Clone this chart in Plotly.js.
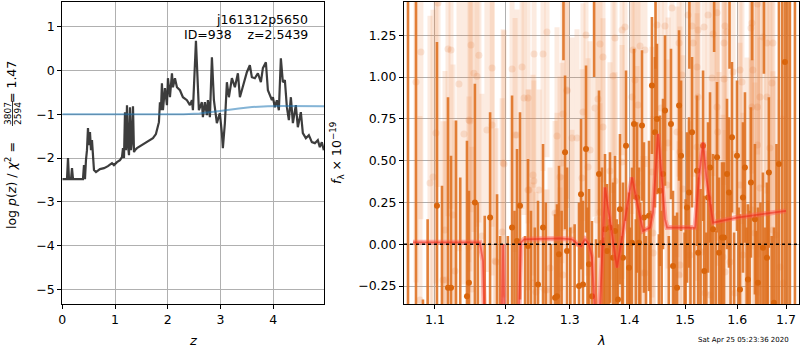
<!DOCTYPE html>
<html><head><meta charset="utf-8">
<script src="https://cdn.plot.ly/plotly-3.0.1.min.js"></script>
<style>html,body{margin:0;padding:0;background:#fff}#c{width:800px;height:350px}</style>
</head><body><div id="c"></div>
<script>
// ---- left panel: p(z) ----
const pz_z = [0.000,0.070,0.089,0.108,0.127,0.165,0.184,0.203,0.392,0.411,0.430,0.449,0.468,0.487,0.506,0.525,0.544,0.563,0.582,0.601,0.639,0.715,0.791,0.866,0.942,0.980,1.037,1.094,1.132,1.151,1.170,1.189,1.208,1.227,1.246,1.265,1.284,1.303,1.322,1.341,1.360,1.378,1.416,1.473,1.568,1.663,1.719,1.776,1.814,1.833,1.852,1.871,1.890,1.909,1.947,1.985,2.004,2.042,2.080,2.099,2.137,2.175,2.232,2.288,2.364,2.421,2.459,2.478,2.535,2.572,2.591,2.648,2.667,2.705,2.743,2.762,2.800,2.838,2.876,2.932,2.989,3.027,3.046,3.084,3.122,3.160,3.217,3.274,3.331,3.369,3.425,3.501,3.558,3.596,3.653,3.710,3.767,3.805,3.862,3.900,3.976,3.995,4.032,4.070,4.108,4.146,4.184,4.222,4.260,4.298,4.336,4.374,4.430,4.468,4.525,4.563,4.620,4.677,4.734,4.791,4.847,4.885,4.923,4.961];
const pz_logp = [-2.482,-2.482,-2.482,-2.000,-2.482,-2.482,-2.231,-2.482,-2.482,-2.162,-2.482,-2.048,-1.820,-1.317,-1.705,-1.408,-1.820,-1.591,-2.048,-2.276,-2.322,-2.253,-2.231,-2.185,-2.116,-2.162,-2.094,-2.048,-1.979,-1.774,-2.000,-0.952,-1.820,-0.792,-1.705,-1.934,-0.838,-1.820,-1.591,-0.815,-1.865,-1.820,-1.774,-1.728,-1.660,-1.591,-1.546,-1.454,-1.295,-1.180,-0.724,-0.906,-0.290,-0.906,-0.404,-0.792,-0.176,-0.610,-0.062,-0.381,-0.176,-0.381,-0.450,-0.610,-0.678,-0.792,-0.678,-0.906,0.680,-0.678,-0.906,-0.724,-1.066,-0.724,-1.021,-0.678,-1.066,0.304,-0.678,-1.203,-0.975,-1.432,-1.774,-1.203,-0.267,-0.610,-0.176,-0.381,-0.062,-0.610,-0.381,-0.039,0.121,-0.153,-0.176,-0.062,-0.267,0.053,0.189,-0.450,-0.678,-0.610,-0.838,-0.678,-0.906,0.281,-0.267,-0.221,-0.838,-1.135,-0.610,-1.203,-0.792,-1.295,-0.952,-1.432,-1.546,-1.477,-1.637,-1.660,-1.591,-1.751,-1.637,-1.820];
const prior_z = [0, 2.3, 2.6, 2.85, 3.1, 3.35, 3.6, 3.9, 4.2, 4.97];
const prior_logp = [-1.0, -1.0, -0.98, -0.95, -0.91, -0.87, -0.835, -0.815, -0.81, -0.815];
const pz_ticks = [0, 1, 2, 3, 4];
const lp_ticks = [-5, -4, -3, -2, -1, 0, 1];

// ---- right panel: spectrum ----
const bg_lam = [1.1041,1.0810,1.0744,1.1013,1.1179,1.1221,1.1332,1.1403,1.1473,1.1502,1.1544,1.1587,1.1616,1.1732,1.1807,1.1807,1.1984,1.2103,1.2178,1.2254,1.2284,1.2345,1.2438,1.2577,1.2639,1.2797,1.2892,1.2957,1.4758,1.6410,1.3872,1.3923,1.4486,1.4631,1.5055,1.5130,1.5242,1.5356,1.5433,1.5606,1.5761,1.5800,1.6296,1.6276,1.3266,1.3498,1.3548,1.3751,1.4185,1.4272,1.4888,1.5150,1.5529,1.5742,1.6520,1.6602,1.6726,1.4061,1.5224,1.6057,1.5918,1.6316,1.3717,1.4096,1.4944,1.5510,1.5742,1.6096,1.6706,1.2957,1.3464,1.4044,1.5242,1.6460,1.6602,1.3414,1.3216,1.4149,1.4559,1.5606,1.6296,1.6410,1.3548,1.4851,1.5620,1.3037,1.3118,1.4686,1.5224,1.6410,1.6664,1.3332,1.3872,1.4906,1.2876,1.1970,1.2148,1.2422,1.2435,1.2345,1.2515,1.2766,1.2845,1.3037,1.2892,1.2639,1.2468,1.3200,1.3299,1.3666,1.3751,1.3498,1.3448,1.4132,1.4236,1.1955,1.0932,1.1137,1.1248,1.1151,1.1276,1.1516,1.1659,1.1866,1.2360,1.2410,1.2608,1.2687,1.2797,1.2845,1.4396,1.4414,1.4272,1.4420,1.4668,1.4962,1.4906,1.4888,1.5093,1.5242,1.5375,1.5471,1.5318,1.5645,1.5722,1.5761,1.5859,1.6116,1.6357,1.6196,1.6296,1.6057,1.6460,1.6726,1.6789,1.6874,1.6937,1.5957,1.0973,1.1487,1.1851,1.1110,1.0797,1.1473];
const bg_flux = [1.443,1.150,0.971,0.666,1.168,1.162,0.959,0.660,0.743,1.192,1.023,1.005,1.130,0.684,0.714,1.055,0.480,1.049,0.654,1.061,0.875,0.875,1.138,1.138,1.270,0.648,0.779,0.917,1.413,1.437,1.282,1.300,1.312,1.306,1.372,1.306,1.282,1.300,1.372,1.384,1.306,1.270,1.324,1.294,1.252,1.198,1.120,1.234,1.186,1.162,1.204,1.204,1.258,1.204,1.240,1.204,1.204,1.162,1.061,1.043,1.031,1.043,1.007,0.983,1.013,0.995,0.989,0.971,0.965,0.923,0.869,0.881,0.881,0.881,0.881,0.815,0.791,0.833,0.815,0.821,0.821,0.821,0.702,0.672,0.672,0.636,0.636,0.606,0.582,0.594,0.576,0.564,0.492,0.552,0.486,0.486,0.654,0.414,0.379,0.325,0.325,0.187,0.403,0.085,-0.184,-0.273,-0.285,0.397,0.462,0.438,0.379,0.193,0.145,0.367,-0.172,0.074,0.367,0.086,0.175,-0.214,-0.160,-0.267,0.050,-0.106,0.325,-0.231,-0.273,-0.141,0.187,-0.261,0.432,0.067,-0.172,-0.052,0.355,0.331,-0.124,-0.184,-0.064,-0.052,-0.291,-0.303,-0.046,0.181,-0.076,-0.166,-0.106,-0.064,0.067,0.217,0.205,0.355,0.337,0.085,0.056,-0.136,-0.231,-0.291,0.403,0.737,-0.100,-0.214,-0.333,-0.016];
const bg_err = [1.1,1.0,1.2,0.9,1.0,0.95,1.0,0.9,0.85,1.0,0.95,0.9,1.0,0.85,0.9,0.95,0.8,0.8,0.75,0.85,0.7,0.75,0.8,0.7,0.75,0.65,0.7,0.7,0.85,0.9,0.75,0.7,0.8,0.75,0.85,0.8,0.8,0.85,0.9,0.85,0.8,0.85,0.9,0.85,0.7,0.7,0.75,0.7,0.75,0.7,0.8,0.8,0.85,0.85,0.9,0.9,0.95,0.7,0.8,0.85,0.85,0.9,0.7,0.7,0.8,0.8,0.85,0.85,0.95,0.65,0.7,0.7,0.8,0.9,0.9,0.65,0.65,0.7,0.75,0.8,0.85,0.9,0.65,0.75,0.8,0.6,0.65,0.75,0.8,0.9,0.95,0.65,0.7,0.75,0.6,0.8,0.7,0.6,0.6,0.6,0.6,0.55,0.6,0.6,0.6,0.6,0.6,0.65,0.65,0.65,0.65,0.65,0.65,0.7,0.7,0.8,1.0,0.95,0.9,0.95,0.9,0.85,0.85,0.8,0.6,0.6,0.6,0.6,0.6,0.6,0.75,0.7,0.7,0.7,0.75,0.8,0.8,0.8,0.8,0.8,0.85,0.85,0.8,0.85,0.85,0.85,0.85,0.85,0.9,0.9,0.9,0.85,0.9,0.95,0.95,1.0,1.0,0.85,1.0,0.9,0.85,0.95,1.1,0.9];

const sp_lam = [1.0638,1.0744,1.0837,1.1027,1.1096,1.1179,1.1221,1.1290,1.1445,1.1473,1.1558,1.1600,1.1700,1.1778,1.1925,1.2040,1.2103,1.2178,1.2223,1.2300,1.2345,1.2450,1.2499,1.2577,1.2700,1.2766,1.2797,1.2829,1.2900,1.2925,1.2957,1.3080,1.3151,1.3184,1.3216,1.3266,1.3315,1.3364,1.3430,1.3481,1.3531,1.3560,1.3582,1.3615,1.3666,1.3717,1.3751,1.3802,1.3836,1.3870,1.3888,1.3940,1.3992,1.4010,1.4044,1.4079,1.4132,1.4167,1.4219,1.4254,1.4290,1.4343,1.4396,1.4450,1.4460,1.4486,1.4520,1.4541,1.4595,1.4631,1.4700,1.4740,1.4777,1.4851,1.4888,1.4925,1.4990,1.5036,1.5074,1.5130,1.5170,1.5224,1.5245,1.5338,1.5360,1.5400,1.5433,1.5471,1.5529,1.5550,1.5580,1.5606,1.5645,1.5703,1.5742,1.5800,1.5839,1.5898,1.5940,1.5997,1.6057,1.6116,1.6156,1.6190,1.6216,1.6276,1.6300,1.6357,1.6380,1.6418,1.6520,1.6560,1.6602,1.6643,1.6700,1.6747,1.6851,1.6977,1.7082,1.7189,
  1.0900,1.1350,1.1880,1.2140,1.2390,1.2620,1.2870,1.3010,1.3290,1.3650,1.3780,1.3960,1.4110,1.4190,1.4370,1.4570,1.4810,1.5010,1.5100,1.5290,1.5490,1.5680,1.5870,1.6030,1.6250,1.6470,1.6620,1.6800,1.6920,1.7030,1.3400,1.5080,1.5850,1.6540];
const sp_flux = [1.80,-1.00,-0.95,0.23,-0.55,-0.26,-0.26,-0.42,-0.31,-0.23,0.25,-0.50,-0.48,0.16,-0.55,-0.50,0.10,0.02,0.23,-0.45,-0.01,-0.50,-0.24,0.10,-0.45,-0.32,-0.31,-0.06,1.60,0.55,-0.04,-0.50,-0.25,0.30,-0.24,0.57,-0.12,-0.31,-0.42,0.42,0.01,-0.48,0.09,-0.04,0.10,-0.08,0.08,-0.33,0.21,-0.40,-0.08,0.59,-0.14,-0.50,0.01,0.72,0.28,0.01,0.71,0.16,-0.45,0.17,0.95,0.67,1.55,0.75,-0.42,0.32,0.42,0.80,-0.50,0.72,-0.13,-0.26,0.83,0.53,-0.45,0.22,0.31,0.67,-0.40,0.44,-0.05,0.59,-0.16,-0.48,0.28,0.46,0.09,1.60,-0.42,0.52,-0.05,0.04,0.04,0.42,0.31,0.64,-0.45,0.53,-0.27,0.28,0.46,-0.40,-0.21,0.37,1.65,0.15,-0.47,-0.23,-0.02,-0.40,-0.08,0.43,-0.45,-0.35,0.48,1.09,1.80,-1.00,
  -0.80,-0.70,-0.60,-0.55,-0.50,-0.55,-0.50,-0.45,-0.48,-0.50,-0.45,-0.48,-0.45,-0.50,-0.45,-0.50,-0.48,-0.45,-0.50,-0.42,-0.46,-0.50,-0.44,-0.48,-0.45,-0.50,-0.44,-0.40,1.70,-0.50,1.60,1.65,1.60,1.62];
const sp_err = [2.5,2.5,0.62,0.98,0.90,1.14,0.79,1.16,0.93,0.55,0.71,0.75,0.65,0.63,0.60,0.55,0.79,0.55,0.56,0.50,0.52,0.60,0.50,0.50,0.45,0.50,0.55,0.53,0.50,0.46,0.50,0.62,0.50,0.45,0.50,0.50,0.45,0.45,0.45,0.50,0.45,0.52,0.45,0.40,0.45,0.45,0.45,0.45,0.45,0.45,0.45,0.45,0.45,0.60,0.45,0.45,0.45,0.45,0.45,0.45,0.50,0.45,0.41,0.45,0.50,0.45,0.48,0.45,0.45,0.45,0.55,0.45,0.45,0.45,0.45,0.45,0.52,0.45,0.45,0.45,0.50,0.45,0.45,0.45,0.45,0.55,0.45,0.45,0.45,0.45,0.50,0.45,0.45,0.45,0.45,0.45,0.45,0.45,0.52,0.45,0.45,0.45,0.45,0.50,0.45,0.45,0.55,0.45,0.55,0.45,0.45,0.50,0.45,0.45,0.50,0.45,1.20,1.50,2.50,2.50,
  0.95,1.10,0.90,0.75,0.70,0.80,0.70,0.55,0.70,0.65,0.60,0.70,0.60,0.75,0.65,0.70,0.65,0.72,0.60,0.75,0.70,0.65,0.75,0.70,0.65,0.75,0.70,1.00,2.20,2.20,0.60,0.60,0.55,0.60];

const model_lam = [1.0704,1.1630,1.1674,1.1732,1.1925,1.1970,1.2015,1.2163,1.2238,1.2284,1.2845,1.3037,1.3134,1.3184,1.3250,1.3315,1.3364,1.3440,1.3470,1.3582,1.3785,1.4044,1.4236,1.4361,1.4414,1.4486,1.4505,1.4559,1.4631,1.4668,1.5186,1.5260,1.5338,1.5400,1.5529,1.5997,1.6460,1.7000];
const model_flux = [0.012,0.012,-0.10,-1.0,-1.0,0.0,-1.0,-1.0,0.01,0.03,0.035,0.03,0.0,-0.01,0.03,0.0,-0.08,-0.6,-0.6,0.34,-0.14,0.40,0.08,0.10,0.19,0.56,0.66,0.45,0.15,0.10,0.10,0.40,0.61,0.40,0.13,0.16,0.18,0.20];

const lam_ticks = [1.1, 1.2, 1.3, 1.4, 1.5, 1.6, 1.7];
const flux_ticks = [-0.25, 0, 0.25, 0.5, 0.75, 1.0, 1.25];

const FONT = 'DejaVu Sans, Verdana, sans-serif';
const axBase = {showline:true, mirror:true, linecolor:'#000', linewidth:1, ticks:'outside', ticklen:4, tickcolor:'#000', tickwidth:1,
  showgrid:true, gridcolor:'#b0b0b0', gridwidth:1, zeroline:false, tickfont:{family:FONT, size:12.5, color:'#000'}};

const traces = [
  {x:pz_z, y:pz_logp, xaxis:'x', yaxis:'y', mode:'lines', line:{color:'rgba(40,40,40,0.9)', width:2.2}, hoverinfo:'skip'},
  {x:prior_z, y:prior_logp, xaxis:'x', yaxis:'y', mode:'lines', line:{color:'rgba(31,119,180,0.55)', width:2}, hoverinfo:'skip'},
  {x:bg_lam, y:bg_flux, xaxis:'x2', yaxis:'y2', mode:'markers', marker:{color:'rgba(225,115,45,0.16)', size:7},
   error_y:{type:'data', array:bg_err, visible:true, color:'rgba(235,135,70,0.17)', thickness:5, width:0}, hoverinfo:'skip'},
  {x:sp_lam, y:sp_flux, xaxis:'x2', yaxis:'y2', mode:'markers', marker:{color:'#d9650c', size:6},
   error_y:{type:'data', array:sp_err, visible:true, color:'rgba(222,110,30,0.88)', thickness:2.6, width:0}, hoverinfo:'skip'},
  {x:model_lam, y:model_flux, xaxis:'x2', yaxis:'y2', mode:'lines', line:{color:'rgba(255,90,80,0.45)', width:5}, hoverinfo:'skip'},
  {x:model_lam, y:model_flux, xaxis:'x2', yaxis:'y2', mode:'lines', line:{color:'rgba(235,35,20,0.55)', width:1.8}, hoverinfo:'skip'}
];

const PX = v => v/800;
const PY = v => (304 - v)/302;

const layout = {
  width:800, height:350, margin:{l:0, r:0, t:2, b:46}, showlegend:false,
  paper_bgcolor:'#fff', plot_bgcolor:'#fff', font:{family:FONT, size:12.5, color:'#000'},
  xaxis: Object.assign({}, axBase, {domain:[PX(62.3), PX(324.3)], range:[0, 4.97], tickvals:pz_ticks, anchor:'y'}),
  yaxis: Object.assign({}, axBase, {range:[-5.336, 1.566], tickvals:lp_ticks, anchor:'x'}),
  xaxis2: Object.assign({}, axBase, {domain:[PX(404), PX(799.3)], type:'log', range:[0.0247, 0.2376], tickvals:lam_ticks,
     ticktext:lam_ticks.map(v=>v.toFixed(1)), anchor:'y2'}),
  yaxis2: Object.assign({}, axBase, {range:[-0.357, 1.449], tickvals:flux_ticks, tickformat:'.2f', anchor:'x2'}),
  shapes: [
    {type:'line', xref:'x2 domain', yref:'y2', x0:0, x1:1, y0:0, y1:0, line:{color:'#000', width:1.6, dash:'dot'}},
    {type:'line', xref:'paper', yref:'paper', x0:PX(12.5), x1:PX(12.5), y0:PY(101), y1:PY(126), line:{color:'#000', width:0.8}}
  ],
  annotations: [
    {text:'j161312p5650', xref:'paper', yref:'paper', x:PX(310), y:PY(20), xanchor:'right', yanchor:'middle', showarrow:false, font:{size:12.5}},
    {text:'ID=938\u00a0\u00a0\u00a0\u00a0z=2.5439', xref:'paper', yref:'paper', x:PX(310), y:PY(34), xanchor:'right', yanchor:'middle', showarrow:false, font:{size:12.5}},
    {text:'<i>z</i>', xref:'paper', yref:'paper', x:PX(193), y:PY(340), xanchor:'center', yanchor:'middle', showarrow:false, font:{size:13}},
    {text:'<i>λ</i>', xref:'paper', yref:'paper', x:PX(601), y:PY(340), xanchor:'center', yanchor:'middle', showarrow:false, font:{size:13}},
    {text:'<i>f</i><sub>λ</sub> × 10<sup>−19</sup>', xref:'paper', yref:'paper', x:PX(337), y:PY(153), xanchor:'center', yanchor:'middle', textangle:-90, showarrow:false, font:{size:12.5}},
    {text:'log <i>p</i>(<i>z</i>) / <i>χ</i><sup>2</sup> =', xref:'paper', yref:'paper', x:PX(11), y:PY(186), xanchor:'center', yanchor:'middle', textangle:-90, showarrow:false, font:{size:12.5}},
    {text:'3807', xref:'paper', yref:'paper', x:PX(7.5), y:PY(113.5), xanchor:'center', yanchor:'middle', textangle:-90, showarrow:false, font:{size:9}},
    {text:'2594', xref:'paper', yref:'paper', x:PX(17.5), y:PY(113.5), xanchor:'center', yanchor:'middle', textangle:-90, showarrow:false, font:{size:9}},
    {text:'= 1.47', xref:'paper', yref:'paper', x:PX(11), y:PY(82), xanchor:'center', yanchor:'middle', textangle:-90, showarrow:false, font:{size:12.5}},
    {text:'Sat Apr 25 05:23:36 2020', xref:'paper', yref:'paper', x:PX(743), y:PY(340), xanchor:'center', yanchor:'middle', showarrow:false, font:{size:7}}
  ]
};

Plotly.newPlot('c', traces, layout, {staticPlot:true, displayModeBar:false});
</script>
</body></html>
